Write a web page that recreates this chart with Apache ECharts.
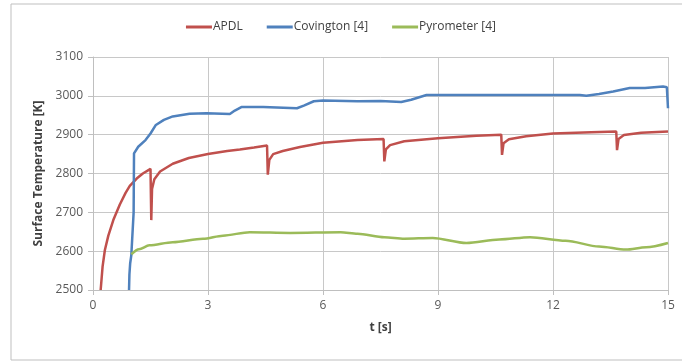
<!DOCTYPE html>
<html>
<head>
<meta charset="utf-8">
<script src="https://cdn.jsdelivr.net/npm/echarts@6/dist/echarts.min.js"></script>
<style>html,body{margin:0;padding:0;background:#fff}#c{width:682px;height:361px}</style>
</head>
<body>
<div id="c"></div>
<script>
var seriesNames = ['APDL', 'Covington [4]', 'Pyrometer [4]'];
var xTicks = [0, 3, 6, 9, 12, 15];
var yTicks = [2500, 2600, 2700, 2800, 2900, 3000, 3100];

var apdl = [[0.2,2500],[0.25,2560],[0.31,2603],[0.4,2640],[0.53,2680],[0.7,2720],[0.85,2750],[0.96,2768],[1.14,2787],[1.3,2800],[1.5,2812],[1.52,2680],[1.54,2760],[1.6,2785],[1.75,2805],[2.08,2825],[2.5,2840],[3,2850],[3.5,2858],[3.83,2862],[4.2,2867],[4.54,2872],[4.56,2797],[4.6,2835],[4.7,2850],[4.95,2858],[5.4,2868],[6,2879],[6.9,2886],[7.58,2889],[7.6,2831],[7.64,2862],[7.75,2873],[8.12,2883],[9,2891],[10,2897],[10.65,2900],[10.67,2848],[10.71,2878],[10.85,2888],[11.3,2896],[12,2903],[13,2906],[13.65,2908],[13.67,2860],[13.71,2889],[13.85,2899],[14.3,2905],[15,2908]];
var covington = [[0.94,2500],[0.95,2540],[0.97,2569],[1.0,2590],[1.04,2595],[1.06,2700],[1.07,2852],[1.18,2869],[1.37,2886],[1.5,2903],[1.64,2925],[1.85,2938],[2.08,2947],[2.52,2954],[2.96,2955],[3.57,2953],[3.7,2962],[3.87,2971],[4.44,2971],[5.32,2968],[5.5,2975],[5.76,2986],[6,2988],[6.9,2986],[7.5,2987],[8.04,2984],[8.3,2990],[8.7,3002],[9,3002],[12.7,3002],[12.87,3000],[13.2,3005],[13.57,3011],[14,3020],[14.4,3020],[14.87,3024],[14.97,3022],[15,2968]];
var pyrometer = [[1.0,2592],[1.2,2605],[1.47,2615],[2.08,2623],[2.87,2632],[3.39,2640],[4.09,2649],[5.14,2647],[6.46,2649],[6.9,2645],[7.6,2636],[8.12,2632],[8.86,2634],[9.74,2621],[10.6,2630],[11.4,2636],[12.33,2627],[13.2,2612],[13.9,2604],[14.43,2610],[15,2621]];

var colors = ['#c0504d', '#4f81bd', '#9bbb59'];
var font = 'Open Sans, Noto Sans, sans-serif';
var chart = echarts.init(document.getElementById('c'), null, {renderer: 'canvas'});
chart.setOption({
  animation: false,
  backgroundColor: '#fff',
  color: colors,
  graphic: [{type: 'rect', shape: {x: 11, y: 4, width: 680, height: 356}, style: {fill: 'none', stroke: '#bfbfbf', lineWidth: 1}, z: -1}],
  legend: {
    top: 16, left: 'center', itemWidth: 26, itemHeight: 3, itemGap: 24,
    icon: 'rect',
    textStyle: {fontFamily: font, fontSize: 12, color: '#404040', padding: [0,0,0,-4]},
    data: seriesNames
  },
  grid: {left: 93, right: 14, top: 57, bottom: 71, containLabel: false},
  xAxis: {
    type: 'value', min: xTicks[0], max: xTicks[xTicks.length-1], interval: 3,
    name: 't [s]', nameLocation: 'middle', nameGap: 32,
    nameTextStyle: {fontFamily: font, fontSize: 12, fontWeight: 'bold', color: '#404040'},
    axisLine: {show: true, lineStyle: {color: '#bfbfbf'}},
    axisTick: {show: true, length: 5, lineStyle: {color: '#bfbfbf'}},
    axisLabel: {fontFamily: font, fontSize: 12, color: '#595959', margin: 10, formatter: function (v) { return String(v); }},
    splitLine: {show: true, lineStyle: {color: '#c8c8c8'}}
  },
  yAxis: {
    type: 'value', min: yTicks[0], max: yTicks[yTicks.length-1], interval: 100,
    name: 'Surface Temperature [K]', nameLocation: 'middle', nameGap: 46, nameRotate: 90,
    nameTextStyle: {fontFamily: font, fontSize: 12, fontWeight: 'bold', color: '#404040'},
    axisLine: {show: true, lineStyle: {color: '#bfbfbf'}},
    axisTick: {show: true, length: 5, lineStyle: {color: '#bfbfbf'}},
    axisLabel: {fontFamily: font, fontSize: 12, color: '#595959', margin: 10, formatter: function (v) { return String(v); }},
    splitLine: {show: true, lineStyle: {color: '#c8c8c8'}}
  },
  series: [
    {name: seriesNames[0], type: 'line', data: apdl, showSymbol: false, symbol: 'none', lineStyle: {width: 2.5, color: colors[0]}, smooth: false},
    {name: seriesNames[1], type: 'line', data: covington, showSymbol: false, symbol: 'none', lineStyle: {width: 2.5, color: colors[1]}, smooth: false},
    {name: seriesNames[2], type: 'line', data: pyrometer, showSymbol: false, symbol: 'none', lineStyle: {width: 2.5, color: colors[2]}, smooth: 0.3, smoothMonotone: 'x'}
  ]
});
</script>
</body>
</html>
